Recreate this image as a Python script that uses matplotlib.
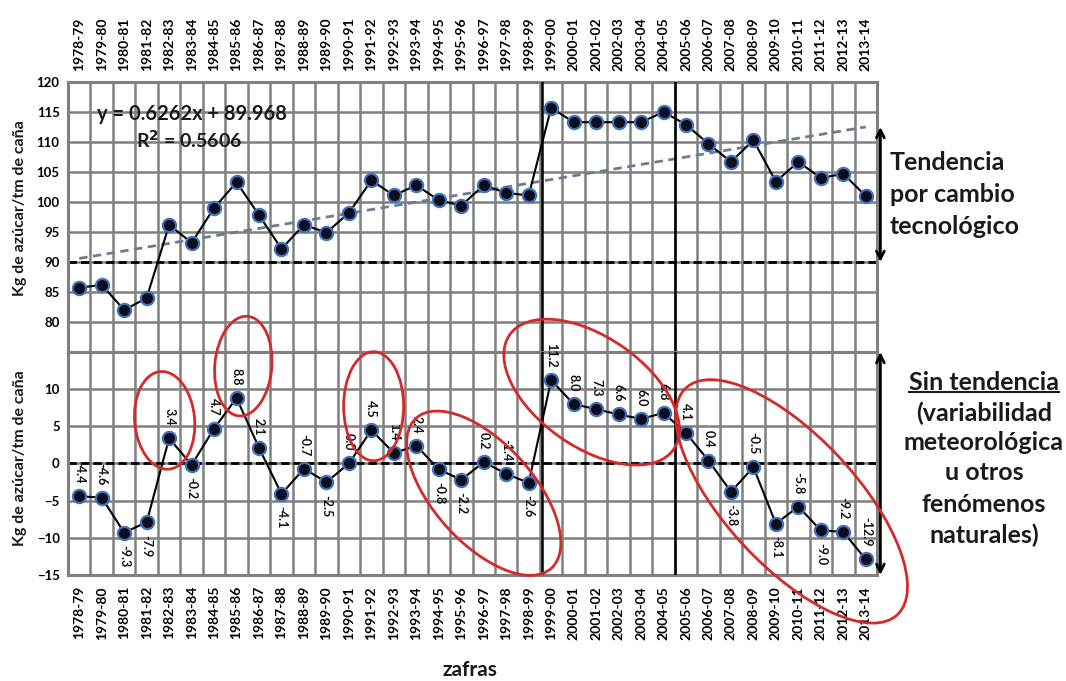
import numpy as np
import matplotlib.pyplot as plt
from matplotlib.patches import Ellipse
from matplotlib.transforms import ScaledTranslation

plt.rcParams['font.family'] = ['Lato', 'DejaVu Sans']
plt.rcParams['font.weight'] = 'bold'

# zafras and sugar yield (kg azucar / tm cana)
zafras = ['1978-79', '1979-80', '1980-81', '1981-82', '1982-83', '1983-84',
          '1984-85', '1985-86', '1986-87', '1987-88', '1988-89', '1989-90',
          '1990-91', '1991-92', '1992-93', '1993-94', '1994-95', '1995-96',
          '1996-97', '1997-98', '1998-99', '1999-00', '2000-01', '2001-02',
          '2002-03', '2003-04', '2004-05', '2005-06', '2006-07', '2007-08',
          '2008-09', '2009-10', '2010-11', '2011-12', '2012-13', '2013-14']
rendimiento = [85.7, 86.2, 82.0, 84.0, 96.2, 93.2, 99.0, 103.3, 97.8, 92.2,
               96.2, 94.9, 98.2, 103.6, 101.1, 102.8, 100.3, 99.4, 102.8, 101.5,
               101.1, 115.7, 113.3, 113.3, 113.3, 113.3, 115.0, 112.9, 109.7,
               106.7, 110.3, 103.4, 106.7, 104.0, 104.7, 101.0]
# detrended series
desvio = [-4.4, -4.6, -9.3, -7.9, 3.4, -0.2, 4.7, 8.8, 2.1, -4.1, -0.7, -2.5,
          0.0, 4.5, 1.4, 2.4, -0.8, -2.2, 0.2, -1.4, -2.6, 11.2, 8.0, 7.3,
          6.6, 6.0, 6.8, 4.1, 0.4, -3.8, -0.5, -8.1, -5.8, -9.0, -9.2, -12.9]
# linear trend y = a*x + b (x = 1..n)
pendiente = 0.6262
intercepto = 89.968
r2 = 0.5606

# where each value label goes: above (1) or below (-1) the point
lado = [1, 1, -1, -1, 1, -1, 1, 1, 1, -1, 1, -1, 1, 1, 1, 1, -1, -1, 1, 1,
        -1, 1, 1, 1, 1, 1, 1, 1, 1, -1, 1, -1, 1, -1, 1, 1]

n = len(zafras)
x = np.arange(n)
tendencia = pendiente * (x + 1) + intercepto

GRID = '#808080'
RED = '#d42a2a'
INK = '#1a1a1a'

fig = plt.figure(figsize=(10.66, 6.81), dpi=100)
ax1 = fig.add_axes([0.0638, 0.4831, 0.7589, 0.3965])
ax2 = fig.add_axes([0.0638, 0.1557, 0.7589, 0.3274])


def style_axes(ax):
    ax.set_xlim(-0.5, n - 0.5)
    ax.set_xticks(x)
    ax.set_xticks(np.arange(-0.5, n, 1), minor=True)
    ax.grid(which='minor', axis='x', color=GRID, lw=1.8)
    ax.grid(which='major', axis='y', color=GRID, lw=1.8)
    ax.set_axisbelow(True)
    for s in ax.spines.values():
        s.set_color(GRID)
        s.set_linewidth(2.2)
    ax.tick_params(which='minor', length=0)
    ax.tick_params(axis='x', which='major', length=0, labelsize=10,
                   labelrotation=90, pad=8)
    ax.tick_params(axis='y', length=0, labelsize=9.5, pad=6)


def plot_series(ax, y):
    ax.plot(x, y, color='black', lw=1.5, zorder=3)
    ax.plot(x, y, 'o', ms=9.5, mfc='#0d0d1e', mec='#3f72b8', mew=1.6,
            zorder=4)


# upper panel: yield with technological trend
style_axes(ax1)
ax1.set_ylim(75, 120)
ax1.set_yticks(np.arange(80, 121, 5))
ax1.set_xticklabels(zafras)
ax1.tick_params(axis='x', top=True, labeltop=True, bottom=False,
                labelbottom=False)
ax1.plot([-0.5, n - 0.4], [90, 90], color='black', lw=2, ls=(0, (3, 1.5)),
         clip_on=False, zorder=2)
ax1.plot(x, tendencia, color='#6a7d93', lw=2, ls=(0, (3, 2)), zorder=2)
plot_series(ax1, rendimiento)
ax1.text(5.0, 114.7, f'y = {pendiente}x + {intercepto}', ha='center',
         va='center', fontsize=14.5, color=INK)
ax1.text(4.9, 110.3, f'R$^2$ = {r2}', ha='center', va='center',
         fontsize=14, color=INK)
ax1.annotate('', xy=(n - 0.35, tendencia[-1]), xytext=(n - 0.35, 90),
             arrowprops=dict(arrowstyle='<->', lw=2, color='black',
                             mutation_scale=14, shrinkA=0, shrinkB=0),
             annotation_clip=False)

# lower panel: deviations from trend
style_axes(ax2)
ax2.set_ylim(-15, 15)
ax2.set_yticks(np.arange(-15, 11, 5))
ax2.set_xticklabels(zafras)
ax2.plot([-0.5, n - 0.5], [0, 0], color='black', lw=2, ls=(0, (3, 1.5)),
         zorder=2)
plot_series(ax2, desvio)
for xi, v, s in zip(x, desvio, lado):
    ax2.annotate(f'{v:.1f}', (xi, v), xytext=(0, 9 * s),
                 textcoords='offset points', rotation=270, ha='center',
                 va='bottom' if s > 0 else 'top', fontsize=9,
                 color='#111111', zorder=5)
ax2.annotate('', xy=(n - 0.35, 15), xytext=(n - 0.35, -15),
             arrowprops=dict(arrowstyle='<->', lw=2, color='black',
                             mutation_scale=14, shrinkA=0, shrinkB=0),
             annotation_clip=False)

# period separators crossing both panels
for xv in (20.6, 26.5):
    ax1.axvline(xv, color='black', lw=1.8, zorder=3)
    ax2.axvline(xv, color='black', lw=1.8, zorder=3)


def rodear(ax, cx, cy, w, h, ang):
    tr = fig.dpi_scale_trans + ScaledTranslation(cx, cy, ax.transData)
    e = Ellipse((0, 0), w, h, angle=ang, transform=tr, fill=False,
                ec=RED, lw=2, clip_on=False, zorder=6)
    ax.add_artist(e)


rodear(ax2, 3.8, 5.8, 0.60, 0.98, 5)
rodear(ax2, 7.3, 13.1, 0.57, 1.0, -5)
rodear(ax2, 13.1, 7.7, 0.60, 1.09, 0)
rodear(ax2, 18.0, -4.0, 2.02, 1.0, -48)
rodear(ax2, 22.8, 9.6, 2.0, 1.1, -35)
rodear(ax2, 31.7, -5.1, 3.1, 1.3, -47)

ylab = 'Kg de azúcar/tm de caña'
fig.text(0.019, 0.695, ylab, rotation=90, ha='center', va='center',
         fontsize=11.5, color=INK)
fig.text(0.019, 0.328, ylab, rotation=90, ha='center', va='center',
         fontsize=11.5, color=INK)
fig.text(0.441, 0.016, 'zafras', ha='center', va='center', fontsize=15,
         color=INK)

txt_kw = dict(fontsize=18, color=INK, va='center')
for t, yy in zip(['Tendencia', 'por cambio', 'tecnológico'], [163, 195, 227]):
    fig.text(0.835, 1 - yy / 681, t, ha='left', **txt_kw)

lineas = ['Sin tendencia', '(variabilidad', 'meteorológica', 'u otros',
          'fenómenos', 'naturales)']
for t, yy in zip(lineas, [383, 413, 443, 473, 505, 535]):
    tt = fig.text(0.923, 1 - yy / 681, t, ha='center', **txt_kw)
    if t == lineas[0]:
        titulo = tt

# underline the "Sin tendencia" heading
fig.canvas.draw()
bb = titulo.get_window_extent().transformed(fig.transFigure.inverted())
fig.add_artist(plt.Line2D([bb.x0, bb.x1], [bb.y0 + 0.004, bb.y0 + 0.004],
                          color=INK, lw=1.5, transform=fig.transFigure))

fig.savefig('out.png', dpi=100)
